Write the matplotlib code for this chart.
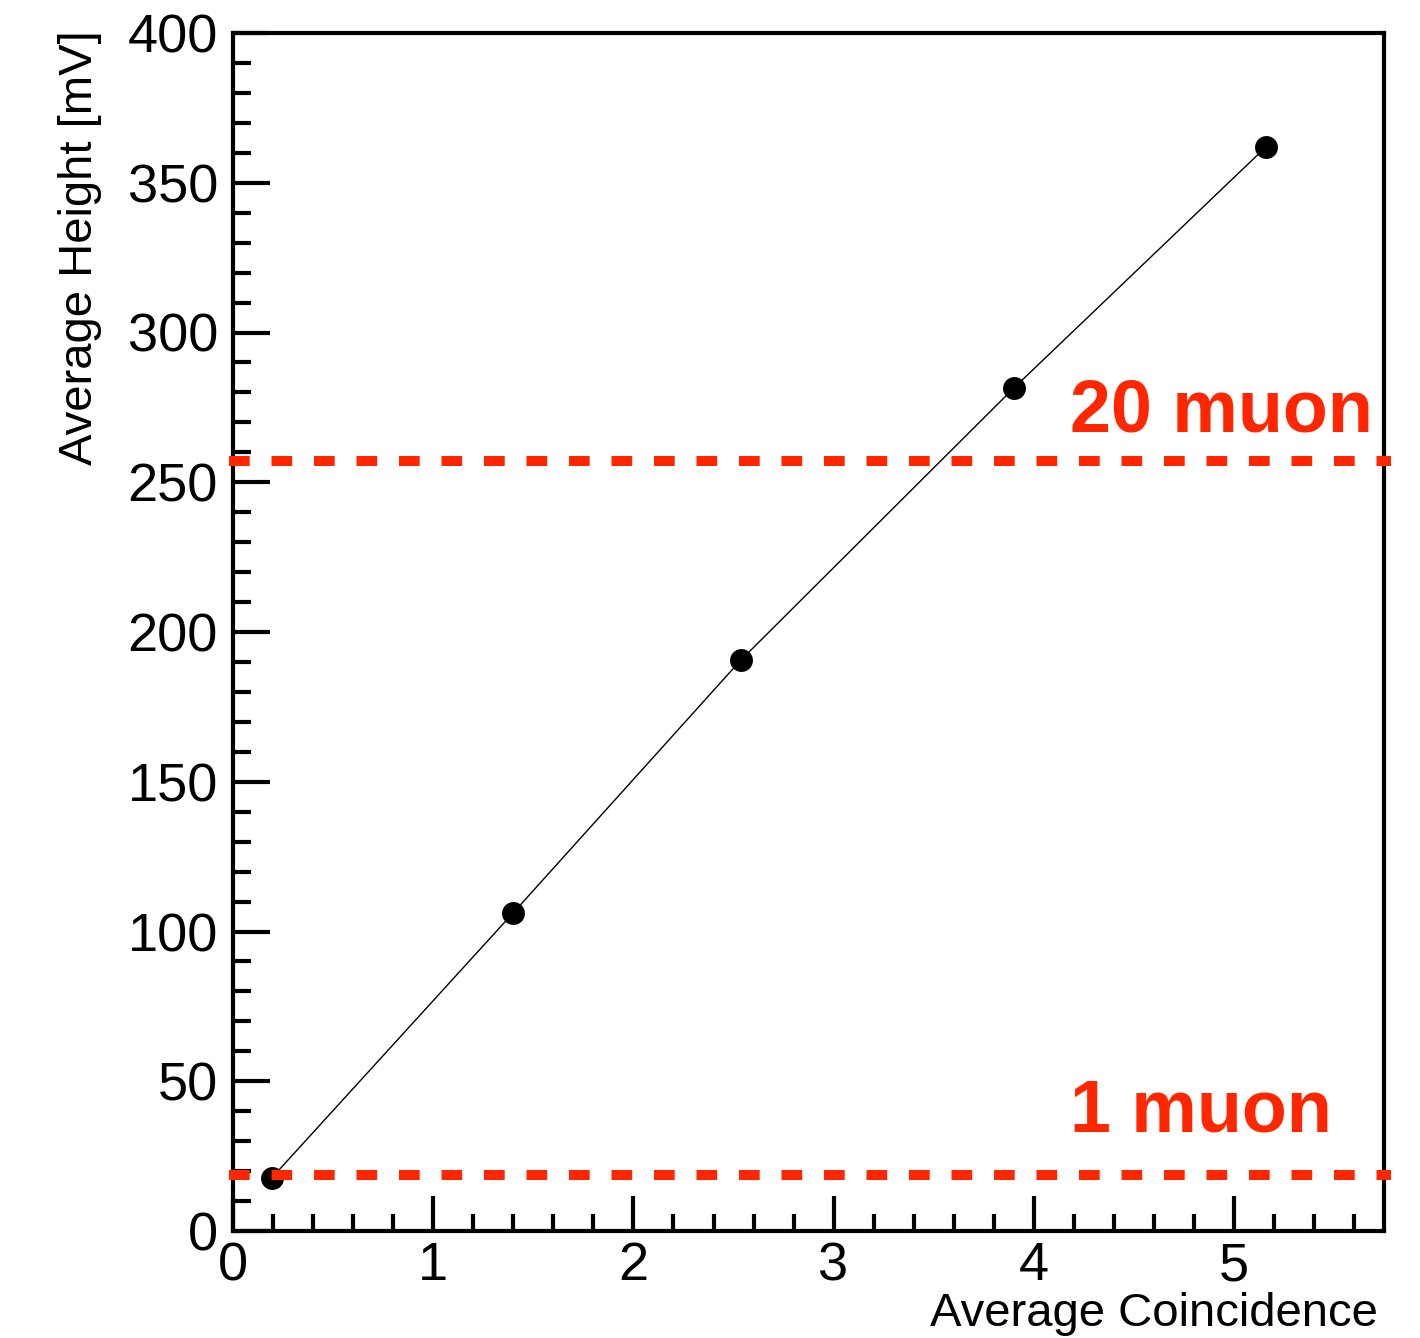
import numpy as np
import matplotlib
matplotlib.use("Agg")
import matplotlib.pyplot as plt
from matplotlib.ticker import MultipleLocator

plt.rcParams["font.family"] = ["Liberation Sans", "DejaVu Sans"]

# data
coincidence = [0.193, 1.40, 2.535, 3.90, 5.16]
height_mV = [17.8, 106.3, 190.5, 281.4, 361.9]

ref_levels = [257.0, 18.8]
ref_labels = ["20 muon", "1 muon"]
ref_text_y = [266.9, 33.2]

red = "#ff2600"

fig = plt.figure(figsize=(14.2, 13.38), dpi=100)
ax = fig.add_axes([233.3 / 1420, 1 - 1231 / 1338, 1150.5 / 1420, 1198 / 1338])

ax.plot(coincidence, height_mV, color="black", lw=1.0, marker="o",
        markersize=16.5, markeredgewidth=0, zorder=3)

for lev, lab, ty in zip(ref_levels, ref_labels, ref_text_y):
    ln, = ax.plot([-0.02, 5.785], [lev, lev], color=red, lw=7.2,
                  clip_on=False, zorder=4, dash_capstyle="butt")
    ln.set_dashes((2.07, 2.18))
    ax.text(4.18, ty, lab, color=red, fontsize=53, fontweight="bold",
            ha="left", va="baseline")

ax.set_xlim(0, 5.75)
ax.set_ylim(0, 400)

ax.xaxis.set_major_locator(MultipleLocator(1))
ax.xaxis.set_minor_locator(MultipleLocator(0.2))
ax.yaxis.set_major_locator(MultipleLocator(50))
ax.yaxis.set_minor_locator(MultipleLocator(10))

ax.tick_params(which="both", direction="in", top=False, right=False, width=3)
ax.tick_params(axis="y", which="major", length=26.5, labelsize=39, pad=11)
ax.tick_params(axis="y", which="minor", length=13)
ax.tick_params(axis="x", which="major", length=25, labelsize=39, pad=7.5)
ax.tick_params(axis="x", which="minor", length=12)

for sp in ax.spines.values():
    sp.set_linewidth(3)

ax.set_xlabel("Average Coincidence", fontsize=34, loc="right")
ax.xaxis.label.set_va("baseline")
ax.xaxis.set_label_coords(0.995, -0.0793)

ax.set_ylabel("Average Height [mV]", fontsize=34, loc="top")
ax.yaxis.set_label_coords(-0.1139, 1.0025)

fig.savefig("out.png", dpi=100)
